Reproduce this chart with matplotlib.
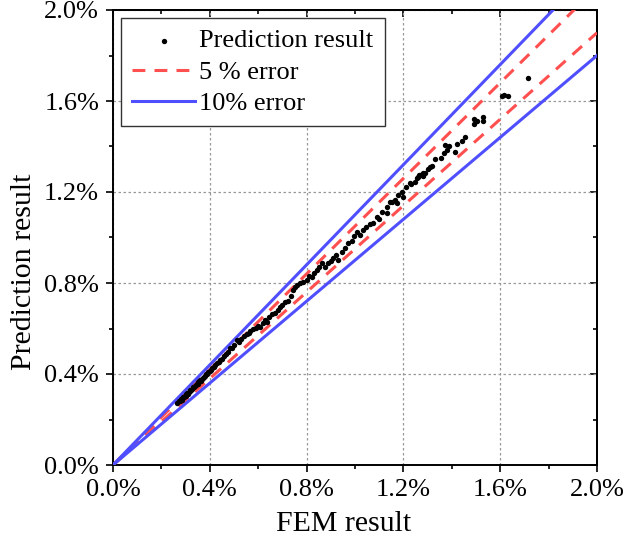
import matplotlib
matplotlib.use("Agg")
import matplotlib.pyplot as plt
import numpy as np
from matplotlib.ticker import MultipleLocator, FuncFormatter

plt.rcParams['font.family'] = ['Liberation Serif', 'DejaVu Serif']
plt.rcParams['mathtext.fontset'] = 'stix'

# FEM result (%) and prediction result (%)
fem = [0.265, 0.272, 0.278, 0.281, 0.285, 0.289, 0.292, 0.296, 0.300, 0.302,
       0.306, 0.310, 0.313, 0.317, 0.320, 0.324, 0.328, 0.331, 0.335, 0.338,
       0.342, 0.346, 0.350, 0.353, 0.357, 0.361, 0.365, 0.369, 0.372, 0.376,
       0.381, 0.385, 0.390, 0.394, 0.399, 0.404, 0.410, 0.416, 0.422, 0.429,
       0.436, 0.443, 0.450,
       0.458, 0.466, 0.474, 0.483, 0.492, 0.500, 0.511, 0.520, 0.530, 0.541,
       0.552, 0.561, 0.566, 0.578, 0.590, 0.600, 0.607, 0.618, 0.628, 0.635,
       0.646, 0.655, 0.668, 0.680, 0.690, 0.700, 0.712, 0.724, 0.735, 0.745,
       0.752, 0.762, 0.773, 0.785, 0.800, 0.810, 0.821, 0.832, 0.842, 0.852,
       0.862, 0.876, 0.890, 0.900, 0.911, 0.920, 0.931, 0.945, 0.958, 0.972,
       0.986, 0.995, 1.007, 1.020, 1.034, 1.045, 1.060, 1.076, 1.090, 1.100,
       1.110, 1.131, 1.131, 1.145, 1.151, 1.165, 1.172, 1.179, 1.193, 1.200,
       1.211, 1.227, 1.230, 1.248, 1.255, 1.262, 1.264, 1.269, 1.280, 1.282,
       1.289, 1.303, 1.310, 1.320, 1.332, 1.354, 1.368, 1.373, 1.379, 1.388,
       1.413, 1.423, 1.441, 1.456, 1.492, 1.492, 1.503, 1.528, 1.528, 1.609,
       1.616, 1.631, 1.716]
pred = [0.272, 0.280, 0.283, 0.290, 0.287, 0.297, 0.300, 0.303, 0.305, 0.312,
        0.316, 0.314, 0.322, 0.326, 0.329, 0.331, 0.336, 0.342, 0.345, 0.347,
        0.351, 0.356, 0.357, 0.364, 0.368, 0.372, 0.371, 0.380, 0.384, 0.386,
        0.392, 0.398, 0.400, 0.407, 0.413, 0.418, 0.425, 0.431, 0.438, 0.447,
        0.452, 0.462, 0.468,
        0.480, 0.486, 0.497, 0.513, 0.516, 0.528, 0.549, 0.542, 0.556, 0.567,
        0.575, 0.581, 0.590, 0.598, 0.604, 0.612, 0.608, 0.625, 0.638, 0.630,
        0.650, 0.662, 0.670, 0.681, 0.695, 0.705, 0.718, 0.722, 0.745, 0.770,
        0.784, 0.790, 0.799, 0.806, 0.812, 0.830, 0.828, 0.846, 0.857, 0.870,
        0.886, 0.869, 0.890, 0.895, 0.908, 0.925, 0.901, 0.938, 0.955, 0.974,
        0.986, 1.005, 1.025, 1.012, 1.033, 1.047, 1.058, 1.062, 1.091, 1.080,
        1.113, 1.106, 1.135, 1.158, 1.158, 1.165, 1.150, 1.187, 1.201, 1.180,
        1.223, 1.238, 1.234, 1.244, 1.260, 1.264, 1.273, 1.275, 1.270, 1.282,
        1.282, 1.302, 1.308, 1.314, 1.347, 1.348, 1.370, 1.405, 1.385, 1.402,
        1.374, 1.409, 1.425, 1.440, 1.520, 1.498, 1.513, 1.528, 1.513, 1.622,
        1.625, 1.622, 1.700]

line_x = [0.0, 2.0]
err5 = [1.05, 0.95]
err10 = [1.10, 0.90]

fig = plt.figure(figsize=(6.23, 5.44), dpi=100)
ax = fig.add_axes([113/623, 79/544, 484/623, 455/544])

red = '#ff4f4f'
blue = '#4f4fff'

ax.scatter(fem, pred, s=15, color='black', zorder=4, label='Prediction result', linewidths=0)
for i, k in enumerate(err5):
    ax.plot(line_x, [k*v for v in line_x], color=red, lw=2.2, ls=(0, (4.2, 3.0)),
            label='5 % error' if i == 0 else None, zorder=3)
for i, k in enumerate(err10):
    ax.plot(line_x, [k*v for v in line_x], color=blue, lw=2.2,
            label='10% error' if i == 0 else None, zorder=3)

ax.set_xlim(0, 2.0)
ax.set_ylim(0, 2.0)
pct = FuncFormatter(lambda v, p: f"{v:.1f}%")
for a in (ax.xaxis, ax.yaxis):
    a.set_major_locator(MultipleLocator(0.4))
    a.set_minor_locator(MultipleLocator(0.2))
    a.set_major_formatter(pct)
ax.tick_params(which='major', direction='out', length=5, width=1.2, labelsize=19, colors='black', pad=5)
ax.tick_params(which='minor', direction='out', length=3, width=1.2)
ax.grid(True, which='major', color='#999999', ls=(0, (2, 2)), lw=0.9)
for s in ax.spines.values():
    s.set_linewidth(1.4)

# mirrored inward ticks on top and right
top = ax.secondary_xaxis('top')
top.xaxis.set_major_locator(MultipleLocator(0.4))
top.xaxis.set_minor_locator(MultipleLocator(0.2))
top.tick_params(which='both', direction='in', labeltop=False, width=1.2)
top.tick_params(which='major', length=5)
top.tick_params(which='minor', length=3)
top.spines['top'].set_linewidth(1.4)
right = ax.secondary_yaxis('right')
right.yaxis.set_major_locator(MultipleLocator(0.4))
right.yaxis.set_minor_locator(MultipleLocator(0.2))
right.tick_params(which='both', direction='in', labelright=False, width=1.2)
right.tick_params(which='major', length=5)
right.tick_params(which='minor', length=3)
right.spines['right'].set_linewidth(1.4)

ax.set_xlabel('FEM result', fontsize=21.5)
ax.set_ylabel('Prediction result', fontsize=21.5)
ax.xaxis.set_label_coords(0.476, -0.101)
ax.yaxis.set_label_coords(-0.158, 0.424)

leg = ax.legend(loc='upper left', fontsize=19, frameon=True, fancybox=False,
                edgecolor='#333333', framealpha=1, handlelength=2.4,
                borderaxespad=0.3, handletextpad=0.15, labelspacing=0.3,
                markerscale=1.0, borderpad=0.42)
leg.get_frame().set_linewidth(1.0)

fig.savefig('out.png', dpi=100)
